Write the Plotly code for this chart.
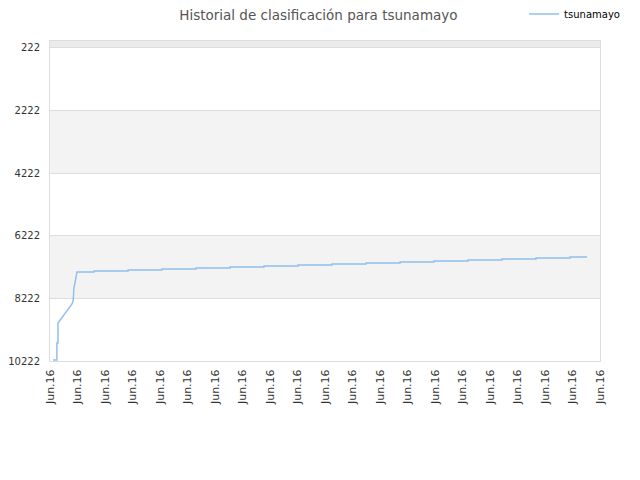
import plotly.graph_objects as go

# position along the time axis (tick units) and rank
rank_x = [0.11, 0.25, 0.25, 0.29, 0.29, 0.80, 0.84, 0.87, 0.98,
          1.60, 1.60, 2.84, 2.84, 4.07, 4.07, 5.31, 5.31, 6.55, 6.55,
          7.78, 7.78, 9.02, 9.02, 10.25, 10.25, 11.49, 11.49, 12.73, 12.73,
          13.96, 13.96, 15.20, 15.20, 16.44, 16.44, 17.67, 17.67, 18.91, 18.91, 19.53]
rank_y = [10190, 10190, 9650, 9650, 9010, 8400, 8300, 7900, 7380,
          7380, 7348, 7348, 7315, 7315, 7283, 7283, 7251, 7251, 7219,
          7219, 7187, 7187, 7155, 7155, 7123, 7123, 7091, 7091, 7059,
          7059, 7027, 7027, 6995, 6995, 6963, 6963, 6931, 6931, 6899, 6899]

y_ticks = [222, 2222, 4222, 6222, 8222, 10222]
y_labels = ["222", "2222", "4222", "6222", "8222", "10222"]
x_ticks = list(range(21))
x_labels = ["Jun.16"] * 21
gray_bands = [(2222, 4222), (6222, 8222)]

fig = go.Figure()
fig.add_trace(go.Scatter(
    x=rank_x, y=rank_y, mode="lines", name="tsunamayo",
    line=dict(color="#90c0f0", width=1.5),
))

# fondo alterno de bandas
for y0, y1 in gray_bands:
    fig.add_shape(type="rect", xref="paper", yref="y", x0=0, x1=1, y0=y0, y1=y1,
                  fillcolor="#f3f3f3", line_width=0, layer="below")
fig.add_shape(type="rect", xref="paper", yref="y", x0=0, x1=1, y0=0, y1=222,
              fillcolor="#ebebeb", line_width=0, layer="below")

fig.update_layout(
    width=640, height=480,
    margin=dict(l=42, r=48, t=33, b=127, autoexpand=False),
    paper_bgcolor="white", plot_bgcolor="white",
    font=dict(family="DejaVu Sans", size=11, color="#333"),
    title=dict(text="Historial de clasificación para tsunamayo", x=0.485, xanchor="center",
               y=0.984, yanchor="middle", font=dict(size=13.5, color="#555")),
    showlegend=True,
    legend=dict(x=0.862, y=1.084, xanchor="left", yanchor="middle",
                font=dict(size=10, color="#000"), bgcolor="rgba(0,0,0,0)"),
)
fig.update_xaxes(range=[0, 20], tickvals=x_ticks, ticktext=x_labels, tickangle=-90,
                 showgrid=False, zeroline=False, showline=True, linecolor="#ddd",
                 mirror=True, ticks="", ticklabelstandoff=3,
                 tickfont=dict(size=11, color="#333"))
fig.update_yaxes(range=[10222, 0], tickvals=y_ticks, ticktext=y_labels, showgrid=True,
                 gridcolor="#ddd", zeroline=False, showline=True, linecolor="#ddd",
                 mirror=True, ticks="", ticklabelstandoff=7,
                 tickfont=dict(size=10, color="#333"))

fig.write_html("out.html")
